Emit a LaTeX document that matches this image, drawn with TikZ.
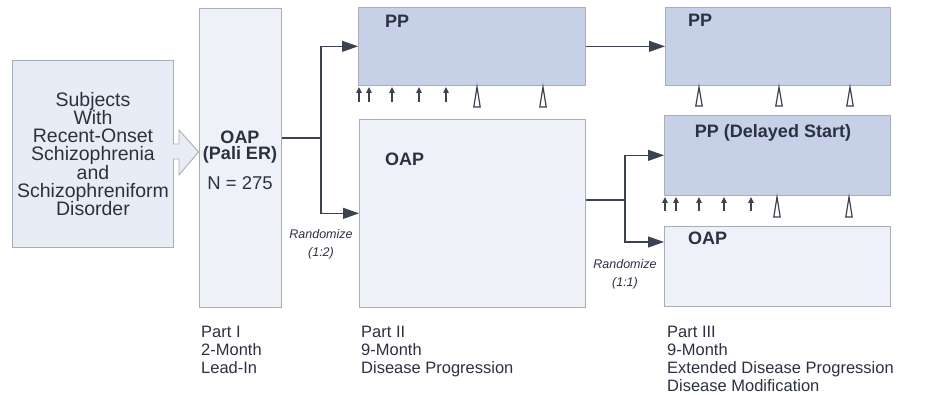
\documentclass[tikz,border=0pt]{standalone}
\usepackage{fontspec}
\setmainfont{Liberation Sans}
\usetikzlibrary{arrows.meta}
\definecolor{ppfill}{HTML}{C6D1E7}
\definecolor{lightfill}{HTML}{EEF2F8}
\definecolor{subjfill}{HTML}{E8EDF5}
\definecolor{edgec}{HTML}{A7ADB9}
\definecolor{ink}{HTML}{2B3140}
\definecolor{connc}{HTML}{3B4251}
\begin{document}
\begin{tikzpicture}[x=1pt,y=-1pt,
  box/.style={draw=edgec,line width=0.7pt,inner sep=0pt,anchor=north west},
  ppbox/.style={box,fill=ppfill},
  oapbox/.style={box,fill=lightfill},
  conn/.style={draw=connc,line width=1.2pt},
  arr/.style={conn,-{Triangle[length=16pt,width=11pt]}},
  tick/.style={draw=connc,line width=1.2pt,-{Triangle[length=6pt,width=5.5pt]}},
  tri/.style={draw=connc,line width=1.2pt,fill=white,line join=miter},
  lbl/.style={font=\fontsize{18}{18}\selectfont\bfseries,text=ink,inner sep=0pt},
  body/.style={font=\fontsize{18.5}{18}\selectfont,text=ink,inner sep=0pt},
  subjtext/.style={font=\fontsize{19.5}{18.3}\selectfont,text=ink,inner sep=0pt},
  part/.style={font=\fontsize{16.5}{18}\selectfont,text=ink,inner sep=0pt,anchor=north west,align=left},
  rnd/.style={font=\fontsize{12.5}{18}\selectfont\itshape,text=ink,inner sep=0pt,align=center}
]
\useasboundingbox (0,0) rectangle (940,395);

% boxes
\node[box,fill=subjfill,minimum width=161pt,minimum height=187pt] (subj) at (12,60) {};
\node[oapbox,minimum width=82pt,minimum height=299pt] (lead) at (199,8) {};
\node[ppbox,minimum width=227pt,minimum height=78pt] (pp2) at (358,7) {};
\node[oapbox,minimum width=226pt,minimum height=188pt] (oap2) at (359,119) {};
\node[ppbox,minimum width=225pt,minimum height=78pt] (pp3) at (665,7) {};
\node[ppbox,minimum width=226pt,minimum height=80pt] (ppd) at (664,115) {};
\node[oapbox,minimum width=226pt,minimum height=80pt] (oap3) at (664,226) {};

% hollow arrow from subjects box to lead-in box
\fill[subjfill] (172,144) -- (179,144) -- (179,130) -- (199,152) -- (179,175) -- (179,159) -- (172,159) -- cycle;
\draw[edgec,line width=0.9pt,line join=miter] (173,144) -- (179,144) -- (179,130) -- (198.5,152) -- (179,175) -- (179,159) -- (173,159);

% texts in boxes
\node[subjtext,align=center] (subjt) at (93,154) {Subjects\\With\\Recent-Onset\\Schizophrenia\\and\\Schizophreniform\\Disorder};
\node[lbl,anchor=base] (leadt1) at (240,143.5) {OAP};
\node[lbl,anchor=base] (leadt2) at (240,160) {(Pali ER)};
\node[body,anchor=base] (leadt3) at (240,190) {N = 275};
\node[lbl,anchor=base west] (pp2t) at (385,28) {PP};
\node[lbl,anchor=base west] (oap2t) at (385,166) {OAP};
\node[lbl,anchor=base west] (pp3t) at (688,27) {PP};
\node[lbl,anchor=base] (ppdt) at (773,138) {PP (Delayed Start)};
\node[lbl,anchor=base west] (oap3t) at (688,245) {OAP};

% connectors
\coordinate (j1) at (321,138);
\draw[conn] (lead.east |- j1) -- (j1);
\draw[arr] (j1) |- (pp2.west);
\draw[arr] (j1) |- (oap2.west);
\draw[arr] (pp2.east) -- (pp3.west);
\coordinate (j2) at (625,200);
\draw[conn] (oap2.east |- j2) -- (j2);
\draw[arr] (j2) |- (ppd.west);
\draw[arr] (j2) |- ([yshift=-16pt]oap3.north west);

% randomize labels
\node[rnd] (r1) at (321,244) {Randomize\\(1:2)};
\node[rnd] (r2) at (625,274) {Randomize\\(1:1)};

% injection ticks under PP (Part II)
\foreach \x in {359,369,392,419,446} \draw[tick] (\x,102) -- (\x,87);
\foreach \x in {477,543} \draw[tri] (\x-3.2,107) -- (\x,87) -- (\x+3.2,107) -- cycle;
% under PP (Part III)
\foreach \x in {699,779,850} \draw[tri] (\x-3.2,106) -- (\x,87) -- (\x+3.2,106) -- cycle;
% under PP (Delayed Start)
\foreach \x in {665,676,699,724,751} \draw[tick] (\x,211) -- (\x,197);
\foreach \x in {777,849} \draw[tri] (\x-3.2,217) -- (\x,197) -- (\x+3.2,217) -- cycle;

% part labels
\node[part] (p1) at (201,325.5) {Part I\\2-Month\\Lead-In};
\node[part] (p2) at (361,325.5) {Part II\\9-Month\\Disease Progression};
\node[part] (p3) at (667,325.5) {Part III\\9-Month\\Extended Disease Progression\\Disease Modification};
\end{tikzpicture}
\end{document}
